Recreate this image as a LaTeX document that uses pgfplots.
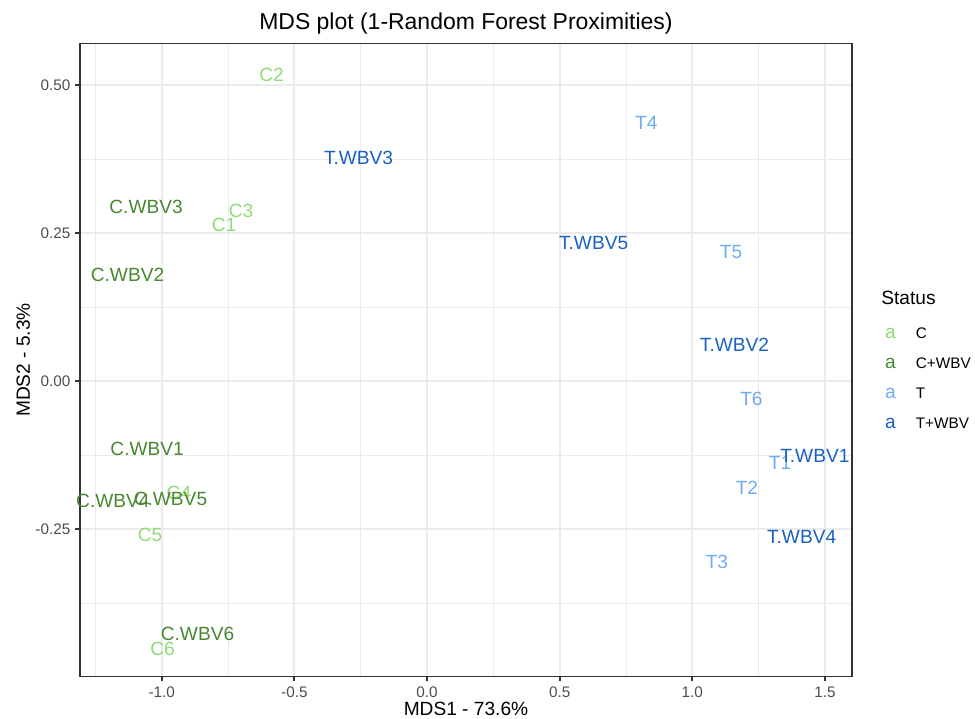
\documentclass[border=0pt]{standalone}
\usepackage{pgfplots}
\pgfplotsset{compat=1.18}
\usepackage{pgfplotstable}
\usepackage{fontspec}
\setmainfont{Liberation Sans}
\definecolor{cC}{RGB}{144,218,120}
\definecolor{cCW}{RGB}{72,135,48}
\definecolor{cT}{RGB}{112,170,240}
\definecolor{cTW}{RGB}{24,96,196}
\definecolor{grey20}{RGB}{51,51,51}
\definecolor{grey30}{RGB}{77,77,77}
\definecolor{grey92}{RGB}{235,235,235}

\pgfplotstableread{
x y label
-0.765 0.264 C1
-0.586 0.517 C2
-0.701 0.287 C3
-0.935 -0.189 C4
-1.044 -0.260 C5
-0.997 -0.453 C6
}\tabC
\pgfplotstableread{
x y label
-1.055 -0.115 C.WBV1
-1.129 0.179 C.WBV2
-1.059 0.294 C.WBV3
-1.184 -0.203 C.WBV4
-0.967 -0.199 C.WBV5
-0.865 -0.427 C.WBV6
}\tabCW
\pgfplotstableread{
x y label
1.331 -0.139 T1
1.206 -0.181 T2
1.093 -0.306 T3
0.827 0.436 T4
1.146 0.218 T5
1.223 -0.030 T6
}\tabT
\pgfplotstableread{
x y label
1.462 -0.127 T.WBV1
1.159 0.061 T.WBV2
-0.258 0.377 T.WBV3
1.412 -0.264 T.WBV4
0.628 0.233 T.WBV5
}\tabTW

\newcommand{\lbl}{\fontsize{11}{13}\selectfont}
\pgfplotsset{
  lab/.style={draw=none, mark=none, forget plot,
    nodes near coords, point meta=explicit symbolic,
    nodes near coords style={anchor=center, inner sep=0pt, font=\lbl, text=#1}},
  akey/.style={legend image code/.code={
    \node[inner sep=0pt, anchor=center, font=\lbl, text=#1] at (0,0) {a};
    \path (-3.1pt,0) (14.4pt,0);}}
}

\begin{document}
\begin{tikzpicture}
\begin{axis}[
  at={(0,0)}, anchor=south west,
  scale only axis,
  width=443.9pt, height=363.975pt,
  xmin=-1.308, xmax=1.602, ymin=-0.4992, ymax=0.5701,
  clip mode=individual,
  xtick={-1,-0.5,0,0.5,1,1.5},
  xticklabels={-1.0,-0.5,0.0,0.5,1.0,1.5},
  ytick={-0.25,0,0.25,0.5},
  yticklabels={-0.25,0.00,0.25,0.50},
  minor xtick={-1.25,-0.75,-0.25,0.25,0.75,1.25},
  minor ytick={-0.375,-0.125,0.125,0.375},
  grid=both,
  major grid style={color=grey92, line width=1.07pt},
  minor grid style={color=grey92, line width=0.53pt},
  axis line style={color=grey20, line width=1.07pt},
  tick pos=left, tick align=outside,
  major tick length=2.75pt, minor tick length=0pt,
  major tick style={color=grey20, line width=1.07pt},
  /pgf/number format/assume math mode=true,
  ticklabel style={font=\fontsize{8.8}{10}\selectfont, text=grey30},
  xticklabel style={inner sep=0pt, anchor=base, yshift=-9.5pt},
  yticklabel style={inner sep=0pt, anchor=east, xshift=-2.6pt},
  title={MDS plot (1-Random Forest Proximities)},
  title style={font=\fontsize{13.2}{15}\selectfont, at={(axis description cs:0.5,1)}, anchor=base, inner sep=0pt, yshift=2.2pt},
  xlabel={MDS1 - 73.6\%},
  ylabel={MDS2 - 5.3\%},
  xlabel style={font=\fontsize{11}{13}\selectfont, at={(axis description cs:0.5,0)}, anchor=base, inner sep=0pt, yshift=-22.7pt},
  ylabel style={font=\fontsize{11}{13}\selectfont, at={(axis description cs:0,0.5)}, anchor=base, inner sep=0pt, yshift=28.75pt},
  legend style={draw=none, fill=none, inner sep=0pt, outer sep=0pt,
    at={(rel axis cs:1.0424,0.5516)}, anchor=north west,
    font=\fontsize{8.8}{10}\selectfont, row sep=10.75pt, column sep=0pt,
    nodes={inner sep=0pt, text height=6.5pt, text depth=0pt}},
  legend cell align=left,
]
\addplot[lab=cC] table[x=x, y=y, meta=label] {\tabC};
\addplot[lab=cCW] table[x=x, y=y, meta=label] {\tabCW};
\addplot[lab=cT] table[x=x, y=y, meta=label] {\tabT};
\addplot[lab=cTW] table[x=x, y=y, meta=label] {\tabTW};
\addlegendimage{akey=cC}\addlegendentry{C}
\addlegendimage{akey=cCW}\addlegendentry{C+WBV}
\addlegendimage{akey=cT}\addlegendentry{T}
\addlegendimage{akey=cTW}\addlegendentry{T+WBV}
\node[anchor=west, inner sep=0pt, font=\fontsize{11}{13}\selectfont] at (rel axis cs:1.0376,0.598) {Status};
\end{axis}
\pgfresetboundingbox
\path[use as bounding box] (-46pt,-24.4375pt) rectangle (514.625pt,388.9875pt);
\end{tikzpicture}
\end{document}
